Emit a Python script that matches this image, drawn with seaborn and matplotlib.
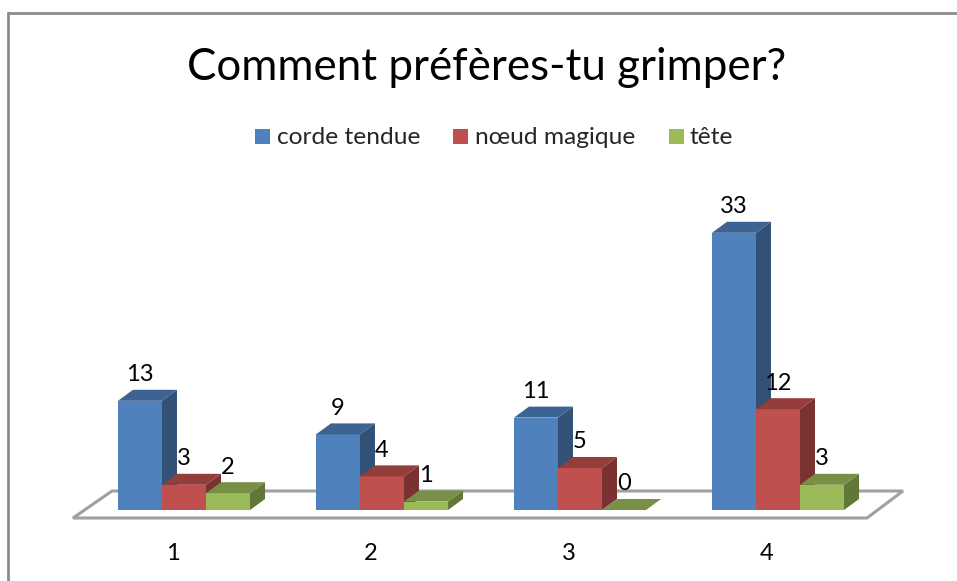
import numpy as np
import pandas as pd
import matplotlib
matplotlib.use("Agg")
import matplotlib.pyplot as plt
import seaborn as sns
from matplotlib.patches import Polygon, Rectangle
from matplotlib.lines import Line2D
import matplotlib.colors as mcolors

# ---- data ----
categories = ["1", "2", "3", "4"]
series = ["corde tendue", "nœud magique", "tête"]
corde_tendue = [13, 9, 11, 33]
noeud_magique = [3, 4, 5, 12]
tete = [2, 1, 0, 3]
colors = ["#4F81BD", "#C0504D", "#9BBB59"]
title = "Comment préfères-tu grimper?"

df = pd.DataFrame({
    "question": categories * 3,
    "réponse": np.repeat(series, len(categories)),
    "n": corde_tendue + noeud_magique + tete,
})

sns.set_style("white")
plt.rcParams["font.family"] = ["Lato", "DejaVu Sans"]

W, H = 957, 581
fig = plt.figure(figsize=(W / 100, H / 100), dpi=100)

# pixel layout of the pseudo-3D plot
X0, SX = 184.0, 198.0     # px of first group centre, px per category
Y0, SY = 510.0, 8.4       # px (from top) of bar base, px per unit
xlim = (-0.9, 3.9)
ylim = (-6, 38)
left = X0 + xlim[0] * SX
right = X0 + xlim[1] * SX
bottom = Y0 - ylim[0] * SY
top = Y0 - ylim[1] * SY
ax = fig.add_axes([left / W, 1 - bottom / H, (right - left) / W, (bottom - top) / H])

sns.barplot(data=df, x="question", y="n", hue="réponse", order=categories,
            hue_order=series, palette=colors, width=0.667, saturation=1,
            legend=False, ax=ax, linewidth=0, errorbar=None)
ax.set_xlim(xlim)
ax.set_ylim(ylim)
ax.axis("off")

def px2d(x, y):
    return ((x - X0) / SX, (Y0 - y) / SY)

# floor
floor = Polygon([px2d(73, 518), px2d(867, 518), px2d(903, 491), px2d(112, 491)],
                closed=True, facecolor="white", edgecolor="#A0A0A0", lw=2.2,
                zorder=1, clip_on=False, joinstyle="miter")
ax.add_patch(floor)

DX = 15 / SX
DY = 11 / SY

bars = [p for p in ax.patches if p is not floor]
for p in bars:
    x0 = p.get_x()
    w = p.get_width()
    x1 = x0 + w
    h = p.get_height()
    rgb = np.array(mcolors.to_rgb(p.get_facecolor()))
    z = 3 + (x0 + 1) * 3
    p.set_zorder(z)
    p.set_clip_on(False)
    side = Polygon([(x1, 0), (x1 + DX, DY), (x1 + DX, h + DY), (x1, h)], closed=True,
                   facecolor=rgb * 0.63, lw=0, zorder=z + 0.01, clip_on=False)
    topf = Polygon([(x0, h), (x0 + DX, h + DY), (x1 + DX, h + DY), (x1, h)], closed=True,
                   facecolor=rgb * 0.77, lw=0, zorder=z + 0.02, clip_on=False)
    ax.add_patch(side)
    ax.add_patch(topf)
    ax.text(x0 + w / 2, h + DY + 1.8, f"{int(round(h))}", ha="center", va="center",
            fontsize=17, color="black", zorder=50, clip_on=False)

for i, c in enumerate(categories):
    ax.text(i - 0.056, px2d(0, 553)[1], c, ha="center", va="center",
            fontsize=17, color="black", clip_on=False)

fig.canvas.draw()
renderer = fig.canvas.get_renderer()

def fit(t, target_w):
    w = t.get_window_extent(renderer).width
    t.set_fontsize(t.get_fontsize() * target_w / w)

ttl = fig.text(187 / W, 1 - 80 / H, title, ha="left", va="baseline", fontsize=34, color="black")
fit(ttl, 600)

# legend
sq_x = [255, 453, 669]
tx_x = [277, 475, 690]
leg_texts = []
for s, col, sx, tx in zip(series, colors, sq_x, tx_x):
    fig.add_artist(Rectangle((sx / W, 1 - 144 / H), 15 / W, 15 / H, transform=fig.transFigure,
                             facecolor=col, lw=0))
    leg_texts.append(fig.text(tx / W, 1 - 137 / H, s, ha="left", va="center", fontsize=16))
fit(leg_texts[0], 144)
for t in leg_texts[1:]:
    t.set_fontsize(leg_texts[0].get_fontsize())

# chart-area frame
fig.add_artist(Line2D([8 / W, 1.0], [1 - 13 / H, 1 - 13 / H], transform=fig.transFigure,
                      color="#8C8C8C", lw=2))
fig.add_artist(Line2D([8 / W, 8 / W], [1 - 13 / H, 0.0], transform=fig.transFigure,
                      color="#8C8C8C", lw=2))

fig.savefig("out.png", dpi=100)
